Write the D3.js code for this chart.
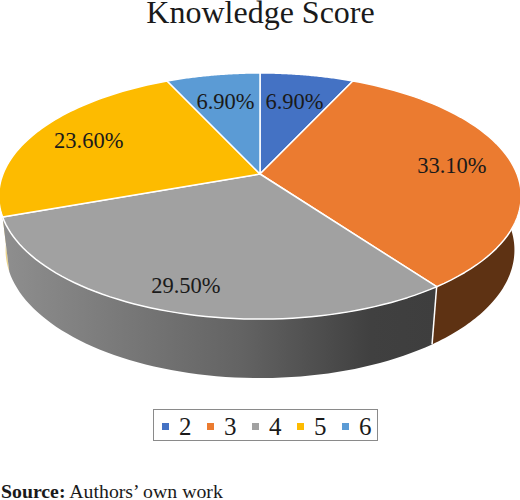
<!DOCTYPE html>
<html>
<head>
<meta charset="utf-8">
<title>Knowledge Score</title>
<script src="https://cdn.jsdelivr.net/npm/d3@7/dist/d3.min.js"></script>
<style>
  html, body { margin: 0; padding: 0; background: #fff; }
  svg { display: block; }
  text { font-family: "Liberation Serif", serif; fill: #1a1a1a; }
</style>
</head>
<body>
<div id="chart"></div>
<script>
const categories = ["2", "3", "4", "5", "6"];
const shares = [6.9, 33.1, 29.5, 23.6, 6.9];
const colors = ["#4472C4", "#EB7B30", "#A1A1A1", "#FDBB00", "#5B9BD5"];

const width = 520, height = 500;
const svg = d3.select("#chart").append("svg")
    .attr("width", width)
    .attr("height", height);

// tilted disc: perspective mapping from the unit circle to the screen
const cx = 260, cy = 174, R = 257;
const persp = -0.179, yNear = 88;

function project(angle, r) {
    const u = r * Math.sin(angle);
    const v = -r * Math.cos(angle);
    const den = 1 + persp * v;
    return [cx + R * u / den, (yNear * v + cy) / den];
}

// rim of the disc as seen on the floor of the wall
function projectBase(angle) {
    const [x, y] = project(angle, 1);
    return [cx + (x - cx) * 0.974, y * 1.04 + 46.2];
}

function sampleAngles(a0, a1) {
    return d3.range(0, 61).map(i => a0 + (a1 - a0) * i / 60);
}

const line = d3.line();
const slices = d3.pie().sort(null).value(d => d)(shares);

// -----------------------------
// Gradient for the grey wall
// -----------------------------
const grad = svg.append("defs").append("linearGradient")
    .attr("id", "wall-grey")
    .attr("gradientUnits", "userSpaceOnUse")
    .attr("x1", 5).attr("x2", 435).attr("y1", 0).attr("y2", 0);
grad.append("stop").attr("offset", "0%").attr("stop-color", "#8e8e8e");
grad.append("stop").attr("offset", "55%").attr("stop-color", "#636363");
grad.append("stop").attr("offset", "85%").attr("stop-color", "#404040");
grad.append("stop").attr("offset", "100%").attr("stop-color", "#3e3e3e");

// -----------------------------
// Walls (only the front part is visible)
// -----------------------------
const walls = [
    { from: Math.PI / 2, to: slices[1].endAngle, fill: "#5E3213" },
    { from: slices[3].startAngle, to: Math.PI * 1.5, fill: "#EBD48A" },
    { from: slices[2].startAngle, to: slices[2].endAngle, fill: "url(#wall-grey)" }
];

svg.append("g").selectAll("path")
    .data(walls)
    .join("path")
    .attr("d", w => {
        const angles = sampleAngles(w.from, w.to);
        const pts = angles.map(a => project(a, 1))
            .concat(angles.slice().reverse().map(projectBase));
        return line(pts) + "Z";
    })
    .attr("fill", w => w.fill);

// white seam between the orange and grey walls
svg.append("path")
    .attr("d", line([project(slices[1].endAngle, 1), projectBase(slices[1].endAngle)]))
    .attr("stroke", "#fff")
    .attr("stroke-width", 1.5)
    .attr("fill", "none");

// -----------------------------
// Top face
// -----------------------------
svg.append("g").selectAll("path")
    .data(slices)
    .join("path")
    .attr("d", d => {
        const rim = sampleAngles(d.startAngle, d.endAngle).map(a => project(a, 1));
        return line([project(0, 0), ...rim]) + "Z";
    })
    .attr("fill", (d, i) => colors[i])
    .attr("stroke", "#fff")
    .attr("stroke-width", 1.5)
    .attr("stroke-linejoin", "round");

// -----------------------------
// Labels
// -----------------------------
const labelRadius = [0.7, 0.76, 0.84, 0.76, 0.7];

svg.append("g").selectAll("text")
    .data(slices)
    .join("text")
    .attr("x", (d, i) => project((d.startAngle + d.endAngle) / 2, labelRadius[i])[0])
    .attr("y", (d, i) => project((d.startAngle + d.endAngle) / 2, labelRadius[i])[1] + 7.5)
    .attr("text-anchor", "middle")
    .attr("font-size", 22.5)
    .text(d => d.value.toFixed(2) + "%");

// -----------------------------
// Title, legend, source
// -----------------------------
svg.append("text")
    .attr("x", 260.5)
    .attr("y", 23)
    .attr("text-anchor", "middle")
    .attr("font-size", 32)
    .text("Knowledge Score");

const legendX = d3.scalePoint()
    .domain(categories)
    .range([162, 342]);

svg.append("rect")
    .attr("x", 153.5).attr("y", 409.5)
    .attr("width", 224).attr("height", 31)
    .attr("fill", "#fff")
    .attr("stroke", "#8a8a8a");

const legend = svg.append("g").selectAll("g")
    .data(categories)
    .join("g")
    .attr("transform", d => `translate(${legendX(d)},0)`);

legend.append("rect")
    .attr("y", 423)
    .attr("width", 7)
    .attr("height", 7)
    .attr("fill", (d, i) => colors[i]);

legend.append("text")
    .attr("x", 17)
    .attr("y", 435)
    .attr("font-size", 25)
    .text(d => d);

const source = svg.append("text")
    .attr("x", 1)
    .attr("y", 498)
    .attr("font-size", 19.8);
source.append("tspan").attr("font-weight", "bold").text("Source:");
source.append("tspan").text(" Authors’ own work");
</script>
</body>
</html>
